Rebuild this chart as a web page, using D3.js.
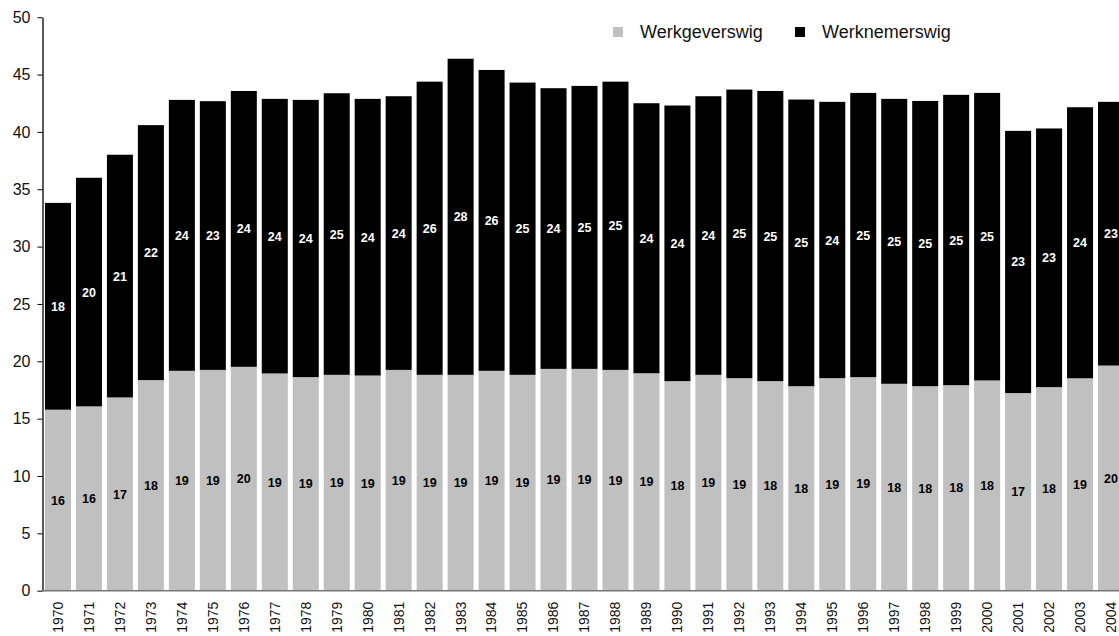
<!DOCTYPE html>
<html>
<head>
<meta charset="utf-8">
<script src="https://cdn.jsdelivr.net/npm/d3@7"></script>
<style>
  html, body { margin: 0; padding: 0; background: #fff; }
  svg { display: block; font-family: Arial, "Liberation Sans", sans-serif; }
</style>
</head>
<body>
<svg id="chart" width="1119" height="636"></svg>
<script>
// Jaarlijkse wig: werkgevers- en werknemersdeel (stacked)
const years = [1970, 1971, 1972, 1973, 1974, 1975, 1976, 1977, 1978, 1979,
               1980, 1981, 1982, 1983, 1984, 1985, 1986, 1987, 1988, 1989,
               1990, 1991, 1992, 1993, 1994, 1995, 1996, 1997, 1998, 1999,
               2000, 2001, 2002, 2003, 2004];

const werkgeverswig = [15.78, 16.07, 16.85, 18.36, 19.17, 19.25, 19.52, 18.94, 18.62, 18.82,
                       18.76, 19.25, 18.82, 18.82, 19.17, 18.82, 19.34, 19.34, 19.25, 18.96,
                       18.27, 18.82, 18.53, 18.27, 17.83, 18.53, 18.62, 18.04, 17.83, 17.92,
                       18.33, 17.23, 17.75, 18.52, 19.63];

const werknemerswig = [18.03, 19.93, 21.16, 22.23, 23.62, 23.43, 24.05, 23.94, 24.17, 24.55,
                       24.12, 23.86, 25.56, 27.56, 26.23, 25.48, 24.47, 24.67, 25.13, 23.54,
                       24.03, 24.29, 25.16, 25.30, 24.99, 24.09, 24.78, 24.84, 24.87, 25.31,
                       25.07, 22.86, 22.55, 23.63, 22.99];

const seriesNames = ["Werkgeverswig", "Werknemerswig"];
const seriesColors = ["#c0c0c0", "#000000"];
const labelColors = ["#000000", "#ffffff"];
const yTicks = [0, 5, 10, 15, 20, 25, 30, 35, 40, 45, 50];

const svg = d3.select("#chart");

const x = d3.scaleBand()
  .domain(years)
  .range([42.5, 1126.5])
  .paddingInner(0.16)
  .paddingOuter(0.08);

const y = d3.scaleLinear()
  .domain([0, 50])
  .range([590.7, 17.2]);

const rows = years.map((yr, i) => ({
  year: yr,
  Werkgeverswig: werkgeverswig[i],
  Werknemerswig: werknemerswig[i]
}));

const stacked = d3.stack().keys(seriesNames)(rows);

// Bars
const layers = svg.append("g")
  .selectAll("g")
  .data(stacked)
  .join("g")
  .attr("fill", (d, i) => seriesColors[i]);

layers.selectAll("rect")
  .data(d => d)
  .join("rect")
  .attr("x", d => x(d.data.year))
  .attr("width", x.bandwidth())
  .attr("y", d => y(d[1]))
  .attr("height", d => y(d[0]) - y(d[1]));

// Value labels centred in each segment
const fmt = d3.format(".0f");
svg.append("g")
  .selectAll("g")
  .data(stacked)
  .join("g")
  .attr("fill", (d, i) => labelColors[i])
  .selectAll("text")
  .data(d => d.map(p => ({ p, key: d.key })))
  .join("text")
  .attr("x", d => x(d.p.data.year) + x.bandwidth() / 2)
  .attr("y", d => y((d.p[0] + d.p[1]) / 2))
  .attr("dy", "0.36em")
  .attr("text-anchor", "middle")
  .attr("font-size", "12.5px")
  .attr("font-weight", "bold")
  .text(d => fmt(d.p.data[d.key]));

// Y axis
const yAxis = svg.append("g")
  .attr("transform", "translate(42.5,0)")
  .call(d3.axisLeft(y).tickValues(yTicks).tickSize(5).tickPadding(7).tickSizeOuter(0));
yAxis.select(".domain").attr("stroke", "#000").attr("stroke-width", 1.3);
yAxis.selectAll(".tick line").attr("stroke", "#000");
yAxis.selectAll("text")
  .attr("font-size", "16px")
  .attr("font-family", "Arial, 'Liberation Sans', sans-serif")
  .attr("fill", "#111");

// X axis with rotated year labels
const xAxis = svg.append("g")
  .attr("transform", "translate(0,590.7)")
  .call(d3.axisBottom(x).tickSize(0).tickSizeOuter(0));
xAxis.select(".domain")
  .attr("d", "M42.5,0H1119")
  .attr("stroke", "#777")
  .attr("stroke-width", 1.6);
xAxis.selectAll("text")
  .attr("font-size", "14px")
  .attr("font-family", "Arial, 'Liberation Sans', sans-serif")
  .attr("fill", "#111")
  .attr("text-anchor", "end")
  .attr("transform", "rotate(-90)")
  .attr("x", -11)
  .attr("y", 0)
  .attr("dy", "0.35em");

// Legend
const legendX = [613, 795];
const legend = svg.append("g")
  .selectAll("g")
  .data(seriesNames)
  .join("g")
  .attr("transform", (d, i) => `translate(${legendX[i]},27)`);
legend.append("rect")
  .attr("width", 10)
  .attr("height", 10)
  .attr("fill", (d, i) => seriesColors[i]);
legend.append("text")
  .attr("x", 27)
  .attr("y", 11)
  .attr("font-size", "18px")
  .attr("fill", "#111")
  .text(d => d);
</script>
</body>
</html>
